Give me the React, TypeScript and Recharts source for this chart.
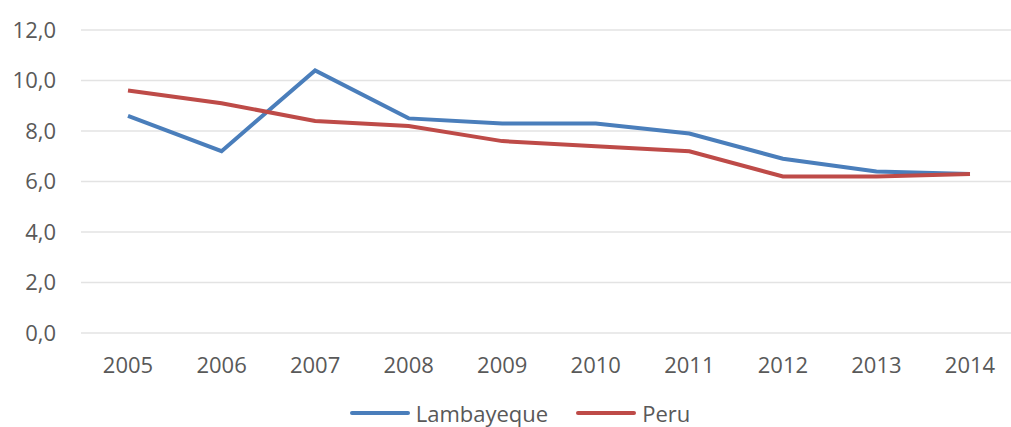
import { LineChart, Line, XAxis, YAxis, CartesianGrid, Legend } from "recharts";

const years = ["2005", "2006", "2007", "2008", "2009", "2010", "2011", "2012", "2013", "2014"];
const lambayeque = [8.6, 7.2, 10.4, 8.5, 8.3, 8.3, 7.9, 6.9, 6.4, 6.3];
const peru = [9.6, 9.1, 8.4, 8.2, 7.6, 7.4, 7.2, 6.2, 6.2, 6.3];
const yTicks = [0, 2, 4, 6, 8, 10, 12];

const data = years.map((year, i) => ({
  year,
  Lambayeque: lambayeque[i],
  Peru: peru[i],
}));

const textColor = "#595959";

const renderLegend = (props: any) => {
  const { payload = [] } = props;
  return (
    <div
      style={{
        display: "flex",
        justifyContent: "center",
        alignItems: "center",
        height: 30,
        boxSizing: "border-box",
        paddingTop: 4,
        paddingBottom: 2,
        paddingLeft: 23,
        fontFamily: "Open Sans",
        fontSize: 22,
        lineHeight: "24px",
        color: textColor,
      }}
    >
      {payload.map((entry: any, i: number) => (
        <div
          key={i}
          style={{ display: "flex", alignItems: "center", marginLeft: i > 0 ? 28 : 0 }}
        >
          <span
            style={{
              display: "inline-block",
              width: 60,
              height: 4,
              borderRadius: 2,
              background: entry.color,
              marginRight: 6,
            }}
          />
          <span>{entry.value}</span>
        </div>
      ))}
    </div>
  );
};

export default function App() {
  return (
    <div
      style={{
        position: "absolute",
        left: 0,
        top: 0,
        width: 1011,
        height: 427,
        overflow: "hidden",
        background: "#fff",
      }}
    >
      <LineChart
        width={1017}
        height={427}
        data={data}
        margin={{ top: 30, right: 0, left: 0, bottom: 0 }}
        style={{ fontFamily: "Open Sans" }}
      >
        <CartesianGrid vertical={false} stroke="#e3e3e3" strokeWidth={1.5} />
        <XAxis
          dataKey="year"
          height={64}
          padding={{ left: 47, right: 47 }}
          axisLine={false}
          tickLine={false}
          tickSize={0}
          tickMargin={24}
          tick={{ fontSize: 22, fill: textColor }}
        />
        <YAxis
          width={81}
          domain={[0, 12]}
          ticks={yTicks}
          axisLine={false}
          tickLine={false}
          tickSize={0}
          tickMargin={25}
          tick={{ fontSize: 22, fill: textColor }}
          tickFormatter={(v: number) => v.toFixed(1).replace(".", ",")}
        />
        <Legend verticalAlign="bottom" content={renderLegend} />
        <Line
          dataKey="Lambayeque"
          stroke="#4a7ebb"
          strokeWidth={4}
          dot={false}
          isAnimationActive={false}
        />
        <Line
          dataKey="Peru"
          stroke="#be4b48"
          strokeWidth={4}
          dot={false}
          isAnimationActive={false}
        />
      </LineChart>
    </div>
  );
}
